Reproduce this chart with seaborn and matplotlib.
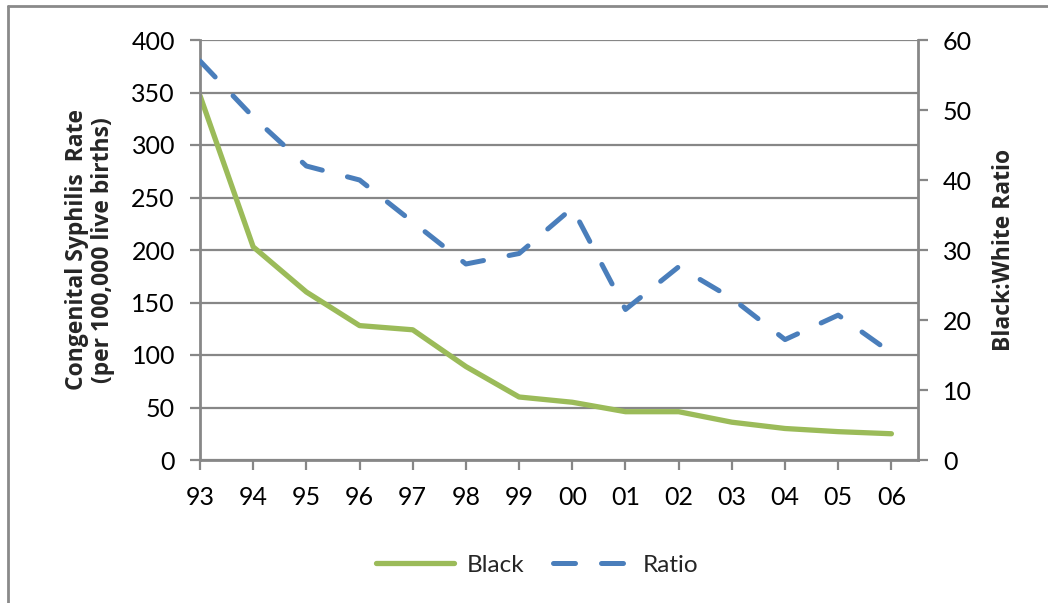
import numpy as np
import pandas as pd
import matplotlib
matplotlib.use("Agg")
import matplotlib.pyplot as plt
import seaborn as sns
from matplotlib.lines import Line2D

# data
years = ["93", "94", "95", "96", "97", "98", "99", "00", "01", "02", "03", "04", "05", "06"]
black_rate = [347, 203, 160, 128, 124, 89, 60, 55, 46, 46, 36, 30, 27, 25]
bw_ratio = [57, 49, 42, 40, 34, 28, 29.5, 36, 21.5, 27.6, 23.1, 17.2, 20.7, 15.3]

df = pd.DataFrame({"pos": np.arange(len(years)), "year": years,
                   "black": black_rate, "ratio": bw_ratio})

sns.set_style("white")
plt.rcParams["font.family"] = ["Lato", "DejaVu Sans"]

grey = "#878787"
green = "#9BBB59"
blue = "#4A7EBB"
dash = (4.4, 5.2)

fig = plt.figure(figsize=(10.48, 6.03), dpi=100)
ax = fig.add_axes([200 / 1048, 1 - 460 / 603, 718 / 1048, 420 / 603])
ax2 = ax.twinx()

sns.lineplot(data=df, x="pos", y="black", ax=ax, color=green, lw=3.8,
             solid_capstyle="round", label="Black", legend=False)
sns.lineplot(data=df, x="pos", y="ratio", ax=ax2, color=blue, lw=3.6,
             dashes=False, label="Ratio", legend=False)
ax2.lines[0].set_dashes(dash)
ax2.lines[0].set_dash_capstyle("round")

ax.set_xlim(0, 13.5)
ax.set_ylim(0, 400)
ax2.set_ylim(0, 60)
ax.set_xticks(df["pos"])
ax.set_xticklabels(years)
ax.set_yticks(range(0, 401, 50))
ax2.set_yticks(range(0, 61, 10))

ax.grid(axis="y", color=grey, lw=1.6)
ax.set_axisbelow(True)
for a in (ax, ax2):
    for s in a.spines.values():
        s.set_visible(False)
ax.spines["left"].set_visible(True)
ax.spines["bottom"].set_visible(True)
ax2.spines["right"].set_visible(True)
for s in (ax.spines["left"], ax.spines["bottom"], ax2.spines["right"]):
    s.set_color(grey)
    s.set_linewidth(2)

ax.tick_params(axis="both", direction="out", length=7, width=1.6, color=grey,
               labelsize=18, labelcolor="black", bottom=True, left=True)
ax.tick_params(axis="x", pad=12)
ax.tick_params(axis="y", pad=11)
ax2.tick_params(axis="y", direction="out", length=7, width=1.6, color=grey,
                labelsize=18, labelcolor="black", right=True, pad=11)

# bold labels need a family that has a bold face
lab_font = dict(family=["Open Sans", "DejaVu Sans"], fontsize=16.5, fontweight="bold")
ax.set_xlabel("")
ax.set_ylabel("Congenital Syphilis  Rate\n(per 100,000 live births)",
              labelpad=12, linespacing=1.1, **lab_font)
ax2.set_ylabel("Black:White Ratio", labelpad=14, **lab_font)

# legend below the plot
handles = [Line2D([], [], color=green, lw=3.8, solid_capstyle="round"),
           Line2D([], [], color=blue, lw=3.6, dashes=dash, dash_capstyle="round")]
fig.legend(handles, ["Black", "Ratio"], loc="center", bbox_to_anchor=(0.513, 1 - 565 / 603),
           ncol=2, frameon=False, fontsize=17.5, handlelength=3.2, columnspacing=1.2,
           handletextpad=0.5)

# chart area border (left and top only visible)
fig.add_artist(Line2D([8 / 1048, 8 / 1048], [0, 1 - 6 / 603], color="#8a8a8a", lw=2))
fig.add_artist(Line2D([8 / 1048, 1], [1 - 6 / 603, 1 - 6 / 603], color="#8a8a8a", lw=2))

fig.savefig("out.png", dpi=100)
